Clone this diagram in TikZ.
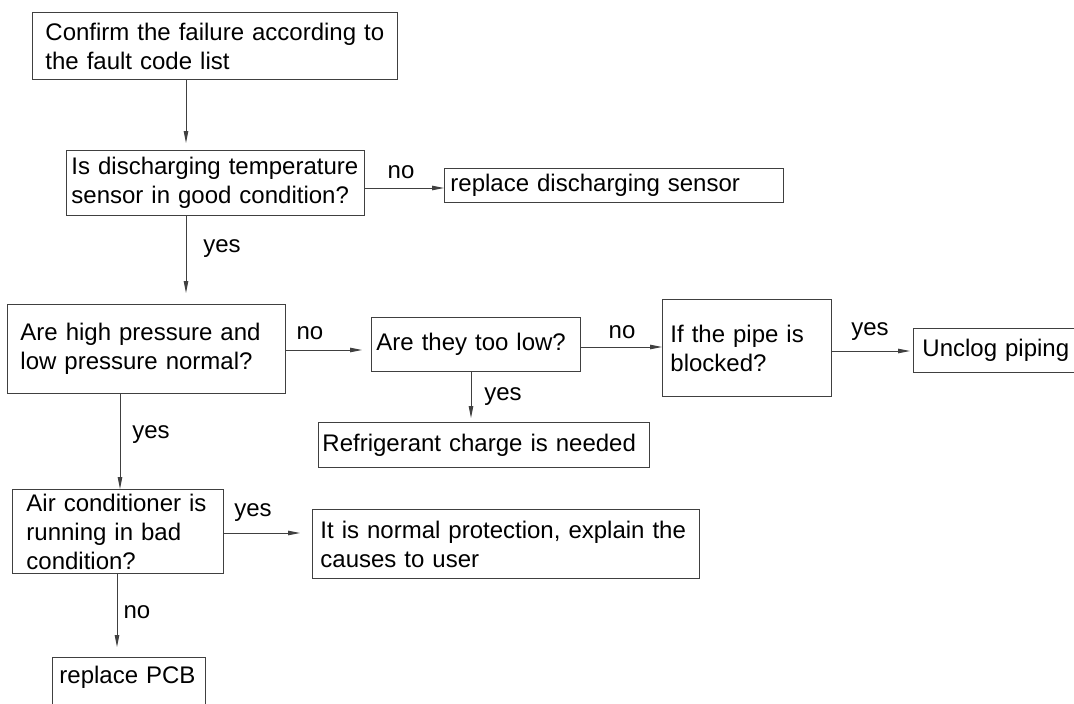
\documentclass[tikz,border=0pt]{standalone}
\usepackage{fontspec}
\setmainfont{Liberation Sans}
\usetikzlibrary{arrows.meta}

\begin{document}
\begin{tikzpicture}[
    x=1pt, y=-1pt,
    box/.style={draw=black!75, line width=0.9pt, anchor=north west, align=left, inner ysep=0pt, font=\fontsize{24}{29}\selectfont},
    lbl/.style={anchor=base, inner sep=0pt, font=\fontsize{24}{29}\selectfont},
    arrow/.style={-{Triangle[length=12pt,width=4.5pt]}, draw=black!75, line width=0.9pt}
]
\useasboundingbox (0,0) rectangle (1074,704);

% Checks and actions
\node[box, minimum width=365pt, minimum height=67pt, inner xsep=13pt, text width=339pt] (confirm) at (32,12) {Confirm the failure according to\\the fault code list};
\node[box, minimum width=298pt, minimum height=65pt, inner xsep=5pt, text width=288pt] (sensor) at (66,150) {Is discharging temperature\\sensor in good condition?};
\node[box, minimum width=339pt, minimum height=34pt, inner xsep=6pt, text width=327pt] (discharge) at (444,168) {replace discharging sensor};
\node[box, minimum width=278pt, minimum height=89pt, inner xsep=13pt, text width=252pt] (pressure) at (7,304) {Are high pressure and\\low pressure normal?};
\node[box, minimum width=209pt, minimum height=54pt, inner xsep=5pt, text width=199pt] (toolow) at (371,317) {Are they too low?};
\node[box, minimum width=169pt, minimum height=97pt, inner xsep=8pt, text width=153pt] (pipe) at (662,299) {If the pipe is\\blocked?};
\node[box, minimum width=170pt, minimum height=44pt, inner xsep=9pt, text width=152pt] (unclog) at (913,328) {Unclog piping};
\node[box, minimum width=331pt, minimum height=45pt, inner xsep=4pt, text width=323pt] (refrig) at (318,422) {Refrigerant charge is needed};
\node[box, minimum width=211pt, minimum height=84pt, inner xsep=14pt, text width=183pt] (aircon) at (12,489) {Air conditioner is\\running in bad\\condition?};
\node[box, minimum width=387pt, minimum height=69pt, inner xsep=8pt, text width=371pt] (protect) at (312,509) {It is normal protection, explain the\\causes to user};
\node[box, minimum width=153pt, inner xsep=7pt, text width=139pt, text height=26pt, text depth=30pt] (pcb) at (52,657) {replace PCB};

% Columns and rows of the connectors
\coordinate (colA) at (186,0);
\coordinate (colB) at (120,0);
\coordinate (colC) at (117,0);
\coordinate (colD) at (471,0);
\coordinate (rowA) at (0,188);
\coordinate (rowB) at (0,350);
\coordinate (rowC) at (0,347);
\coordinate (rowD) at (0,351);
\coordinate (rowE) at (0,533);

% Connectors
\draw[arrow, shorten >=7pt] (confirm.south -| colA) -- (sensor.north -| colA);
\draw[arrow] (sensor.east |- rowA) -- (discharge.west |- rowA);
\draw[arrow, shorten >=11pt] (sensor.south -| colA) -- (pressure.north -| colA);
\draw[arrow, shorten >=9pt] (pressure.east |- rowB) -- (toolow.west |- rowB);
\draw[arrow] (toolow.east |- rowC) -- (pipe.west |- rowC);
\draw[arrow, shorten >=3pt] (pipe.east |- rowD) -- (unclog.west |- rowD);
\draw[arrow, shorten >=4pt] (toolow.south -| colD) -- (refrig.north -| colD);
\draw[arrow] (pressure.south -| colB) -- (aircon.north -| colB);
\draw[arrow, shorten >=12pt] (aircon.east |- rowE) -- (protect.west |- rowE);
\draw[arrow, shorten >=10pt] (aircon.south -| colC) -- (pcb.north -| colC);

% Answers
\node[lbl] (n1) at (401,178) {no};
\node[lbl] (y1) at (222,252) {yes};
\node[lbl] (n2) at (310,339) {no};
\node[lbl] (n3) at (622,338) {no};
\node[lbl] (y2) at (870,335) {yes};
\node[lbl] (y3) at (503,400) {yes};
\node[lbl] (y4) at (151,438) {yes};
\node[lbl] (y5) at (253,516) {yes};
\node[lbl] (n4) at (137,618) {no};
\end{tikzpicture}
\end{document}
